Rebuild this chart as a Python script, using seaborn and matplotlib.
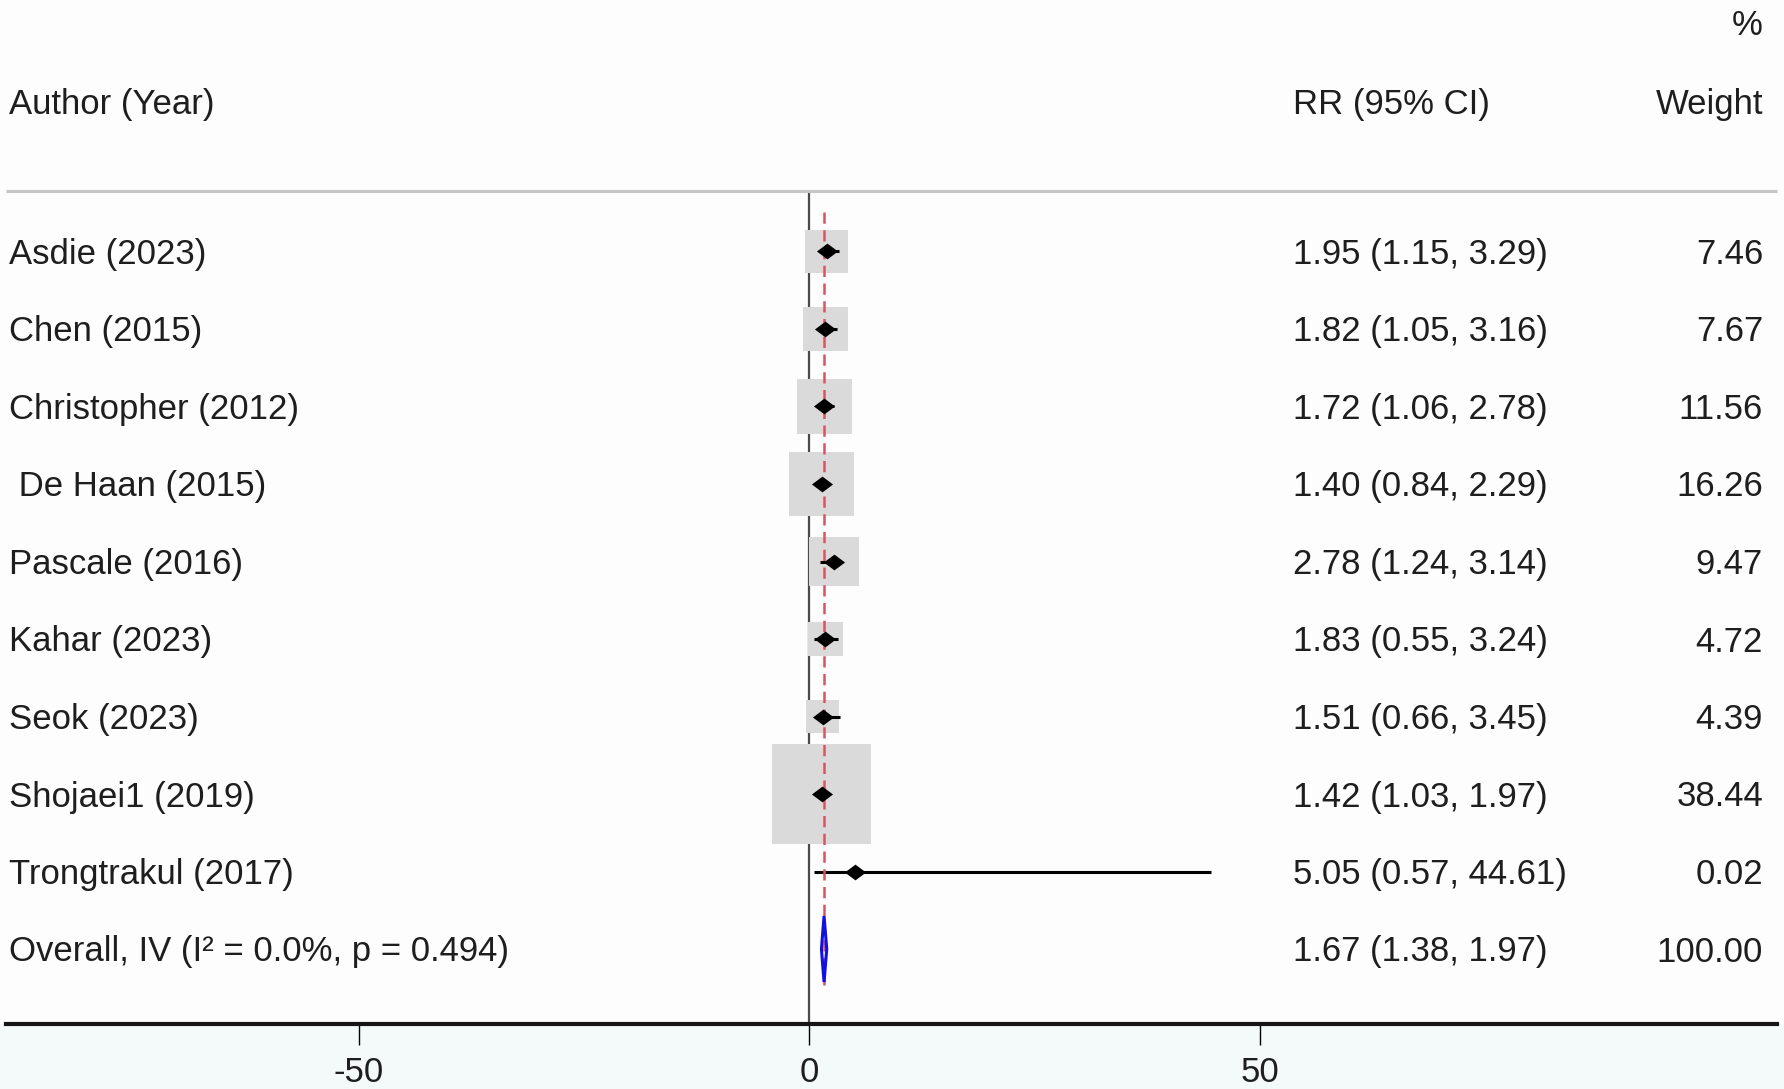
import numpy as np
import pandas as pd
import matplotlib
matplotlib.use("Agg")
import matplotlib.pyplot as plt
from matplotlib.path import Path
from matplotlib.patches import Polygon
import seaborn as sns

# Study-level results (risk ratio, 95% CI, % weight)
studies = ["Asdie (2023)", "Chen (2015)", "Christopher (2012)", " De Haan (2015)",
           "Pascale (2016)", "Kahar (2023)", "Seok (2023)", "Shojaei1 (2019)",
           "Trongtrakul (2017)"]
rr = [1.95, 1.82, 1.72, 1.40, 2.78, 1.83, 1.51, 1.42, 5.05]
ci_low = [1.15, 1.05, 1.06, 0.84, 1.24, 0.55, 0.66, 1.03, 0.57]
ci_high = [3.29, 3.16, 2.78, 2.29, 3.14, 3.24, 3.45, 1.97, 44.61]
weight = [7.46, 7.67, 11.56, 16.26, 9.47, 4.72, 4.39, 38.44, 0.02]

# Pooled estimate (inverse variance)
overall_label = "Overall, IV (I\u00b2 = 0.0%, p = 0.494)"
overall_rr, overall_low, overall_high, overall_weight = 1.67, 1.38, 1.97, 100.00

xticks = [-50, 0, 50]

sns.set_style("white")
plt.rcParams["font.family"] = ["Liberation Sans", "DejaVu Sans"]

df = pd.DataFrame({"study": studies, "rr": rr, "lo": ci_low, "hi": ci_high,
                   "w": weight})
df["row"] = np.arange(len(df))
overall_row = len(df)

W, H, DPI = 1784, 1089, 100
fig = plt.figure(figsize=(W / DPI, H / DPI), dpi=DPI, facecolor="#f4f9f9")
ax = fig.add_axes([0, 65 / H, 1, 1024 / H])
ax.set_facecolor("#fdfdfd")

# pixel layout helpers: zero at x=809 px, 9.01 px per unit
px_per_unit = 9.01
x_left = -809 / px_per_unit
x_right = (W - 809) / px_per_unit
ax.set_xlim(x_left, x_right)
row0, row_step = 251.5, 77.5
ax.set_ylim((1024 - row0) / row_step, -row0 / row_step)

text_color = "#1e1e1e"
fs = 25
text_dy = 3 / row_step  # nudge text baseline to sit level with the markers

# weight boxes (area proportional to weight)
box_px = 16.0
sns.scatterplot(data=df, x="rr", y="row", marker="s",
                s=(box_px * 0.72) ** 2 * df["w"].to_numpy(),
                color="#dadada", edgecolor="none", linewidth=0,
                ax=ax, legend=False, zorder=2)

# confidence intervals
ax.hlines(df["row"], df["lo"], df["hi"], color="black", linewidth=2.2, zorder=3)

# point estimates as flat diamonds
diamond = Path([(-1, 0), (0, 0.75), (1, 0), (0, -0.75), (-1, 0)],
               [Path.MOVETO, Path.LINETO, Path.LINETO, Path.LINETO, Path.CLOSEPOLY])
sns.scatterplot(data=df, x="rr", y="row", marker=diamond, s=230,
                color="black", edgecolor="black", linewidth=0,
                ax=ax, legend=False, zorder=4)

# pooled diamond
half_h = 33 / row_step
ax.add_patch(Polygon([(overall_low, overall_row), (overall_rr, overall_row - half_h),
                      (overall_high, overall_row), (overall_rr, overall_row + half_h)],
                     closed=True, fill=False, edgecolor="#1010e0", linewidth=2.2,
                     zorder=5))

# reference lines
header_row = (191 - row0) / row_step
bottom_row = (1024 - row0) / row_step
ax.vlines(0, header_row, bottom_row, color="#4a4a4a", linewidth=1.6, zorder=1)
ax.vlines(overall_rr, (212 - row0) / row_step, (985 - row0) / row_step,
          color="#d9545e", linewidth=1.8, linestyles=(0, (4.5, 2.6)), zorder=3)
ax.hlines(header_row, (6 - 809) / px_per_unit, (1777 - 809) / px_per_unit,
          color="#c6c6c6", linewidth=2.2, zorder=1)

# text columns
trans = ax.get_yaxis_transform()
x_label, x_rr, x_wt = 9 / W, 1293 / W, 1763 / W


def put(x, y, s, ha):
    ax.text(x, y + text_dy, s, transform=trans, ha=ha, va="center",
            fontsize=fs, color=text_color)


for r in df.itertuples():
    put(x_label, r.row, r.study, "left")
    put(x_rr, r.row, f"{r.rr:.2f} ({r.lo:.2f}, {r.hi:.2f})", "left")
    put(x_wt, r.row, f"{r.w:.2f}", "right")
put(x_label, overall_row, overall_label, "left")
put(x_rr, overall_row, f"{overall_rr:.2f} ({overall_low:.2f}, {overall_high:.2f})", "left")
put(x_wt, overall_row, f"{overall_weight:.2f}", "right")

# headers
hdr_row = (102 - row0) / row_step
put(x_label, hdr_row, "Author (Year)", "left")
put(x_rr, hdr_row, "RR (95% CI)", "left")
put(x_wt, hdr_row, "Weight", "right")
put(x_wt, (23 - row0) / row_step, "%", "right")

# axes styling
for side in ("top", "left", "right"):
    ax.spines[side].set_visible(False)
ax.spines["bottom"].set_color("#151515")
ax.spines["bottom"].set_linewidth(3)
ax.spines["bottom"].set_bounds((6 - 809) / px_per_unit, (1777 - 809) / px_per_unit)
ax.set_xticks(xticks)
ax.set_xticklabels([str(t) for t in xticks])
ax.tick_params(axis="x", direction="out", length=15, width=1.0, color="black",
               pad=8, labelsize=fs, labelcolor=text_color, bottom=True)
ax.set_yticks([])
ax.set_xlabel("")
ax.set_ylabel("")

fig.savefig("out.png", dpi=DPI, facecolor=fig.get_facecolor())
